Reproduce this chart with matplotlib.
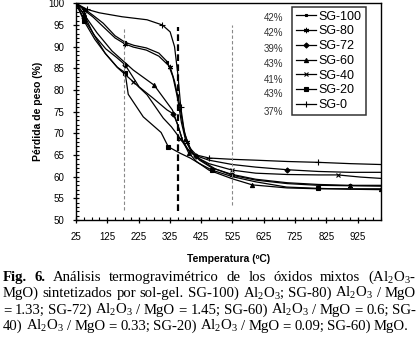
"""
TGA curves of Al2O3-MgO mixed oxides (sol-gel).
"""

import matplotlib
matplotlib.use("Agg")
import matplotlib.pyplot as plt
from matplotlib.ticker import FixedLocator, MultipleLocator

plt.rcParams["font.family"] = ["Liberation Sans", "DejaVu Sans"]
plt.rcParams["mathtext.fontset"] = "custom"
plt.rcParams["mathtext.rm"] = "Liberation Serif"
plt.rcParams["mathtext.it"] = "Liberation Serif:italic"
plt.rcParams["mathtext.bf"] = "Liberation Serif:bold"

# data (temperature in C, weight in %)
labels = ["SG-100", "SG-80", "SG-72", "SG-60", "SG-40", "SG-20", "SG-0"]
losses = ["42%", "42%", "39%", "43%", "41%", "43%", "37%"]

t_sg100 = [25, 50, 80, 112, 150, 182, 210, 250, 290, 317, 335, 350, 362, 375, 395, 420, 460, 525, 600, 700, 800, 900, 1000]
w_sg100 = [100, 98.8, 97.2, 95.4, 92.5, 91, 90.3, 89.7, 88.5, 86.5, 83, 78, 72.5, 68.5, 65.5, 63.8, 62, 60.5, 59.4, 58.6, 58.2, 58, 58]

t_sg80 = [25, 50, 80, 112, 150, 182, 208, 250, 290, 326, 340, 355, 368, 380, 400, 425, 470, 525, 600, 700, 800, 900, 1000]
w_sg80 = [100, 98.5, 96.8, 94.6, 92, 90.6, 89.9, 89.2, 87.8, 85.3, 82, 77, 71.5, 68, 65.3, 63.8, 61.8, 60.3, 59.2, 58.4, 58, 57.9, 57.8]

t_sg72 = [25, 50, 85, 120, 155, 182, 227, 270, 316, 336, 350, 365, 385, 410, 450, 525, 600, 700, 800, 900, 1000]
w_sg72 = [100, 96.5, 92.5, 89.5, 87.5, 85.8, 80.7, 78.2, 75.4, 74.5, 72, 68.5, 66, 64.8, 63.8, 62.8, 62.2, 61.6, 61.2, 61, 61]

t_sg60 = [25, 50, 92, 140, 208, 275, 333, 350, 365, 385, 410, 450, 525, 589, 700, 800, 900, 1000]
w_sg60 = [100, 97.5, 93.2, 89, 84.6, 81.1, 75.4, 72, 68.5, 65.5, 63.5, 61.5, 59.5, 58.1, 57.4, 57.2, 57.2, 57.2]

t_sg40 = [25, 50, 80, 118, 160, 208, 252, 304, 330, 358, 380, 410, 450, 525, 600, 700, 800, 862, 935, 1000]
w_sg40 = [100, 97.5, 93, 88.5, 85, 81.9, 78.9, 73.5, 71.5, 68.8, 66.5, 64.5, 63, 61.5, 60.8, 60.5, 60.4, 60.4, 59.9, 59.6]

t_sg20 = [25, 50, 85, 120, 156, 182, 192, 240, 297, 320, 358, 390, 420, 460, 525, 600, 698, 800, 900, 1000]
w_sg20 = [100, 96, 91.7, 88.3, 85.3, 84, 79, 73.8, 70.2, 66.9, 65.4, 64.3, 63, 61.5, 60, 58.8, 57.6, 57.3, 57.1, 57]

t_sg0 = [25, 60, 100, 172, 252, 301, 326, 340, 350, 360, 372, 390, 410, 450, 525, 600, 700, 800, 903, 1000]
w_sg0 = [100, 98.6, 97.8, 96.9, 96.2, 95, 93.4, 90, 84, 76, 70, 66.5, 65, 64.3, 64, 63.8, 63.5, 63.3, 63, 62.8]

series_t = [t_sg100, t_sg80, t_sg72, t_sg60, t_sg40, t_sg20, t_sg0]
series_w = [w_sg100, w_sg80, w_sg72, w_sg60, w_sg40, w_sg20, w_sg0]
markers = ["s", (6, 2, 0), "D", "^", "x", "s", "+"]
msizes = [1.8, 3.8, 2.6, 3.0, 3.2, 2.6, 4.2]

# dashed reference temperatures
vline_t = [180, 350, 525]

ticks_x = list(range(25, 1000, 100))

fig = plt.figure(figsize=(4.19, 3.40), dpi=100)
W, H = 419, 340
ax = fig.add_axes([76 / W, 1 - 220 / H, 305 / W, 216.7 / H])

for t, w, lab, m, ms in zip(series_t, series_w, labels, markers, msizes):
    ax.plot(t, w, color="black", lw=0.9, marker=m, ms=ms, mew=0.8,
            markevery=(1, 4), label=lab)

ax.vlines(vline_t[0], 52.3, 94.3, colors="#888888", lw=0.8, linestyles=(0, (3, 2)))
ax.vlines(vline_t[1], 52, 94.5, colors="black", lw=1.6, linestyles=(0, (3, 1.5)))
ax.vlines(vline_t[2], 53.5, 95, colors="#888888", lw=0.8, linestyles=(0, (3, 2)))

ax.set_xlim(25, 1000)
ax.set_ylim(50, 100)
ax.xaxis.set_major_locator(FixedLocator(ticks_x))
ax.xaxis.set_minor_locator(MultipleLocator(25))
ax.yaxis.set_major_locator(MultipleLocator(5))
ax.yaxis.set_minor_locator(MultipleLocator(1))
ax.tick_params(which="major", direction="inout", length=5, width=0.9, labelsize=7, pad=6)
ax.tick_params(which="minor", direction="in", length=2.5, width=0.8)
for s in ax.spines.values():
    s.set_linewidth(1.0)

ax.set_ylabel("Pérdida de peso (%)", fontsize=7.5, fontweight="bold", labelpad=4)
ax.set_xlabel("Temperatura (ºC)", fontsize=7.5, fontweight="bold", labelpad=9)

leg = ax.legend(loc="upper left", bbox_to_anchor=(0.708, 0.983), borderaxespad=0,
                fontsize=9, frameon=True, fancybox=False, numpoints=1,
                handlelength=1.6, handletextpad=0.25, labelspacing=0.22,
                borderpad=0.3)
leg.get_frame().set_edgecolor("black")
leg.get_frame().set_linewidth(1.1)

# loss percentages next to legend
loss_y = [96.6, 93.1, 89.4, 86.0, 82.3, 79.1, 75.0]
for txt, y in zip(losses, loss_y):
    ax.text(688, y, txt, ha="right", va="center", fontsize=7, color="#333333")

# caption, justified line by line
caption = [
    [("Fig.", "bold"), ("6.", "bold"), "Análisis", "termogravimétrico", "de", "los",
     "óxidos", "mixtos", "(Al$_2$O$_3$-"],
    ["MgO)", "sintetizados", "por", "sol-gel.", "SG-100)", "Al$_2$O$_3$;", "SG-80)",
     "Al$_2$O$_3$", "/", "MgO"],
    ["=", "1.33;", "SG-72)", "Al$_2$O$_3$", "/", "MgO", "=", "1.45;", "SG-60)",
     "Al$_2$O$_3$", "/", "MgO", "=", "0.6;", "SG-"],
    ["40)", "Al$_2$O$_3$", "/", "MgO", "=", "0.33;", "SG-20)", "Al$_2$O$_3$", "/",
     "MgO", "=", "0.09;", "SG-60)", "MgO."],
]
line_y = [281, 297, 314, 330]
x0, x1 = 3, 416
renderer = fig.canvas.get_renderer()
for i, (words, y) in enumerate(zip(caption, line_y)):
    texts = []
    for wd in words:
        if isinstance(wd, tuple):
            s, wt = wd
        else:
            s, wt = wd, "normal"
        texts.append(fig.text(0, 1 - y / H, s, fontsize=10.6, fontweight=wt,
                              family="Liberation Serif", va="baseline", ha="left"))
    widths = [t.get_window_extent(renderer).width for t in texts]
    if i == len(caption) - 1:
        gap = 3.2
    else:
        gap = (x1 - x0 - sum(widths)) / (len(words) - 1)
    x = x0
    for t, wdt in zip(texts, widths):
        t.set_x(x / W)
        x += wdt + gap

fig.savefig("out.png", dpi=100)
